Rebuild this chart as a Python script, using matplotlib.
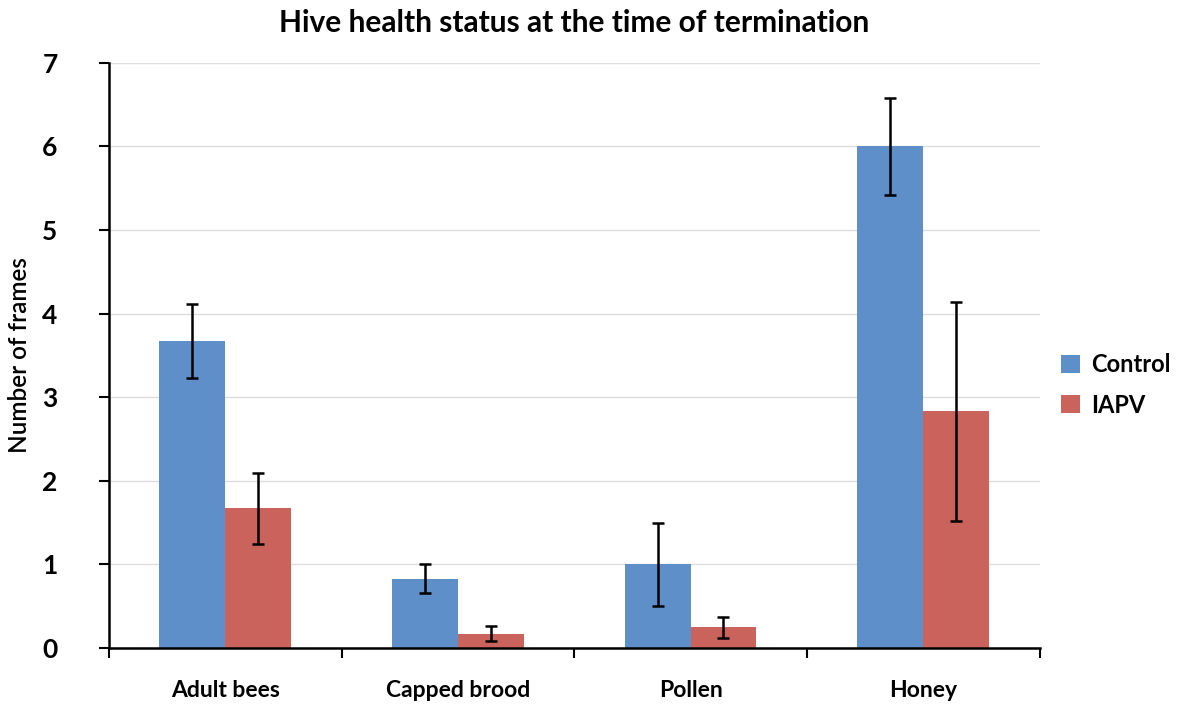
import matplotlib
matplotlib.use('Agg')
import matplotlib.pyplot as plt
import numpy as np

# values
categories = ['Adult bees', 'Capped brood', 'Pollen', 'Honey']
control = [3.67, 0.83, 1.0, 6.0]
control_err = [0.44, 0.17, 0.5, 0.58]
iapv = [1.67, 0.17, 0.25, 2.83]
iapv_err = [0.43, 0.09, 0.125, 1.31]

plt.rcParams['font.family'] = ['Lato', 'DejaVu Sans']

fig = plt.figure(figsize=(11.84, 7.06), dpi=100)
ax = fig.add_axes([0.092, 0.082, 0.786, 0.829])

x = np.arange(len(categories))
w = 0.283
ax.bar(x - w/2, control, w, color='#5f8fc8', label='Control', zorder=2)
ax.bar(x + w/2, iapv, w, color='#c9635b', label='IAPV', zorder=2)
ax.errorbar(x - w/2, control, yerr=control_err, fmt='none', ecolor='black',
            elinewidth=1.8, capsize=4, capthick=1.8, zorder=3)
ax.errorbar(x + w/2, iapv, yerr=iapv_err, fmt='none', ecolor='black',
            elinewidth=1.8, capsize=4, capthick=1.8, zorder=3)

ax.set_xlim(-0.5, len(categories) - 0.5)
ax.set_ylim(0, 7)
ax.set_yticks(range(8))
ax.yaxis.grid(True, color='#dddddd', linewidth=1, zorder=0)
ax.set_axisbelow(True)

# category labels between boundary ticks
ax.set_xticks(np.arange(len(categories) + 1) - 0.5)
ax.set_xticklabels([])
ax.set_xticks(x, minor=True)
ax.set_xticklabels(categories, minor=True, fontsize=16.5, fontweight='bold')
ax.tick_params(axis='x', which='minor', length=0, pad=23)
ax.tick_params(axis='x', which='major', length=7, width=1.5, direction='out')
ax.tick_params(axis='y', length=7, width=1.5, direction='out', labelsize=19, pad=30)
for lab in ax.get_yticklabels():
    lab.set_fontweight('bold')

for s in ['top', 'right']:
    ax.spines[s].set_visible(False)
for s in ['left', 'bottom']:
    ax.spines[s].set_linewidth(1.8)

ax.set_ylabel('Number of frames', fontsize=17.5, fontweight='semibold', labelpad=8)
ax.set_title('Hive health status at the time of termination', fontsize=21.5,
             fontweight='bold', pad=22)

ax.legend(loc='center left', bbox_to_anchor=(1.0, 0.45), frameon=False,
          prop={'weight': 'bold', 'size': 17},
          handlelength=0.8, handleheight=0.8, labelspacing=0.75, handletextpad=0.5)

fig.savefig('out.png', dpi=100)
